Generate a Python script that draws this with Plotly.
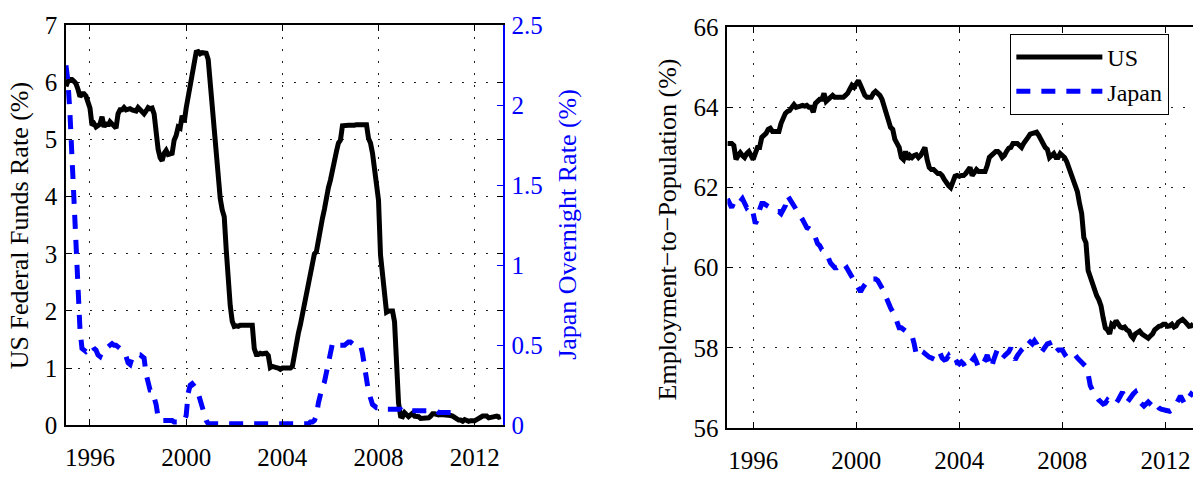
import numpy as np
import plotly.graph_objects as go

FONT = "Liberation Serif, Times New Roman, serif"
BLUE = "#0000FF"
W, H = 1193, 477

# US effective federal funds rate, monthly from Jan 1995 (%)
us_fed_funds = [
    5.93, 6.02, 6.05, 6.05, 6.02, 5.98, 5.88, 5.75, 5.80, 5.80, 5.76, 5.62,  # 1995
    5.55, 5.25, 5.28, 5.22, 5.24, 5.27, 5.40, 5.22, 5.30, 5.24, 5.31, 5.27,  # 1996
    5.22, 5.20, 5.45, 5.52, 5.52, 5.56, 5.52, 5.54, 5.54, 5.52, 5.52, 5.50,  # 1997
    5.56, 5.52, 5.50, 5.45, 5.50, 5.56, 5.54, 5.55, 5.45, 5.07, 4.83, 4.68,  # 1998
    4.63, 4.76, 4.81, 4.74, 4.74, 4.76, 4.99, 5.07, 5.22, 5.20, 5.42, 5.30,  # 1999
    5.55, 5.75, 5.85, 6.05, 6.30, 6.53, 6.54, 6.50, 6.52, 6.51, 6.51, 6.40,  # 2000
    5.98, 5.49, 5.31, 4.80, 4.21, 3.97, 3.77, 3.65, 3.07, 2.49, 2.09, 1.82,  # 2001
    1.73, 1.74, 1.73, 1.75, 1.75, 1.75, 1.73, 1.74, 1.75, 1.75, 1.34, 1.24,  # 2002
    1.24, 1.26, 1.25, 1.26, 1.26, 1.22, 1.01, 1.03, 1.01, 1.01, 1.00, 0.98,  # 2003
    1.00, 1.01, 1.00, 1.00, 1.00, 1.03, 1.26, 1.43, 1.61, 1.76, 1.93, 2.16,  # 2004
    2.28, 2.50, 2.63, 2.79, 3.00, 3.04, 3.26, 3.50, 3.62, 3.78, 4.00, 4.16,  # 2005
    4.29, 4.49, 4.59, 4.79, 4.94, 4.99, 5.24, 5.25, 5.25, 5.25, 5.25, 5.24,  # 2006
    5.25, 5.26, 5.26, 5.25, 5.25, 5.25, 5.26, 5.02, 4.94, 4.76, 4.49, 4.24,  # 2007
    3.94, 2.98, 2.61, 2.28, 1.98, 2.00, 2.01, 2.00, 1.81, 0.97, 0.39, 0.16,  # 2008
    0.15, 0.22, 0.18, 0.15, 0.18, 0.21, 0.16, 0.16, 0.15, 0.12, 0.12, 0.12,  # 2009
    0.11, 0.13, 0.16, 0.20, 0.20, 0.18, 0.18, 0.19, 0.19, 0.19, 0.19, 0.18,  # 2010
    0.17, 0.16, 0.14, 0.10, 0.09, 0.09, 0.07, 0.10, 0.08, 0.07, 0.08, 0.07,  # 2011
    0.08, 0.10, 0.13, 0.14, 0.16, 0.16, 0.16, 0.13, 0.14, 0.16, 0.16, 0.16,  # 2012
    0.14, 0.15,                                                              # 2013
]

# Japan uncollateralized overnight call rate, monthly from Jan 1995 (%)
jp_overnight = [
    2.25, 2.15, 1.95, 1.65, 1.35, 1.10, 0.85, 0.60, 0.48, 0.47, 0.46, 0.47,  # 1995
    0.49, 0.50, 0.48, 0.47, 0.44, 0.43, 0.46, 0.47, 0.48, 0.50, 0.51, 0.51,  # 1996
    0.50, 0.50, 0.49, 0.48, 0.47, 0.45, 0.43, 0.39, 0.38, 0.42, 0.44, 0.44,  # 1997
    0.44, 0.44, 0.43, 0.42, 0.32, 0.27, 0.22, 0.22, 0.18, 0.13, 0.05, 0.03,  # 1998
    0.03, 0.03, 0.03, 0.03, 0.03, 0.03, 0.02, 0.02, 0.02, 0.02, 0.02, 0.03,  # 1999
    0.06, 0.20, 0.25, 0.26, 0.25, 0.23, 0.20, 0.16, 0.10, 0.06, 0.03, 0.01,  # 2000
    0.01, 0.01, 0.01, 0.01, 0.01, 0.01, 0.01, 0.01, 0.01, 0.01, 0.01, 0.01,  # 2001
    0.01, 0.01, 0.01, 0.01, 0.01, 0.01, 0.01, 0.01, 0.01, 0.01, 0.01, 0.01,  # 2002
    0.01, 0.01, 0.01, 0.01, 0.01, 0.01, 0.01, 0.01, 0.01, 0.01, 0.01, 0.01,  # 2003
    0.01, 0.01, 0.01, 0.01, 0.01, 0.01, 0.01, 0.01, 0.01, 0.01, 0.01, 0.01,  # 2004
    0.01, 0.01, 0.02, 0.02, 0.03, 0.06, 0.14, 0.21, 0.24, 0.27, 0.33, 0.40,  # 2005
    0.47, 0.51, 0.52, 0.51, 0.50, 0.50, 0.50, 0.50, 0.51, 0.52, 0.52, 0.51,  # 2006
    0.50, 0.50, 0.50, 0.50, 0.45, 0.36, 0.28, 0.21, 0.17, 0.13, 0.12, 0.11,  # 2007
    0.11, 0.11, 0.11, 0.11, 0.10, 0.10, 0.10, 0.10, 0.10, 0.10, 0.10, 0.10,  # 2008
    0.09, 0.09, 0.09, 0.09, 0.09, 0.09, 0.09, 0.09, 0.09, 0.09, 0.09, 0.09,  # 2009
    0.09, 0.09, 0.09, 0.09, 0.09, 0.09, 0.08, 0.08, 0.08, 0.08, 0.08, 0.08,  # 2010
    0.08,                                                                    # 2011
]

# Employment-to-population ratio, monthly from Jan 1995 (%)
us_epop = [
    63.10, 63.10, 63.10, 63.05, 62.70, 62.80, 62.87, 62.80, 62.75, 62.85, 62.90, 62.80,  # 1995
    62.70, 62.85, 63.00, 63.00, 63.25, 63.30, 63.35, 63.45, 63.48, 63.40, 63.40, 63.40,  # 1996
    63.40, 63.60, 63.75, 63.85, 63.90, 63.92, 64.00, 64.07, 64.00, 64.00, 64.03, 64.05,  # 1997
    64.03, 64.05, 64.00, 64.00, 63.88, 64.10, 64.15, 64.20, 64.20, 64.35, 64.15, 64.20,  # 1998
    64.25, 64.30, 64.25, 64.25, 64.25, 64.25, 64.25, 64.30, 64.35, 64.45, 64.55, 64.50,  # 1999
    64.60, 64.67, 64.55, 64.40, 64.30, 64.25, 64.25, 64.25, 64.35, 64.40, 64.35, 64.30,  # 2000
    64.20, 64.00, 63.90, 63.70, 63.50, 63.45, 63.20, 63.10, 63.00, 62.75, 62.70, 62.90,  # 2001
    62.70, 62.80, 62.75, 62.80, 62.82, 62.75, 62.80, 62.90, 63.00, 62.70, 62.50, 62.45,  # 2002
    62.45, 62.40, 62.35, 62.35, 62.30, 62.20, 62.10, 62.05, 62.00, 62.15, 62.28, 62.30,  # 2003
    62.28, 62.30, 62.30, 62.35, 62.45, 62.50, 62.30, 62.40, 62.45, 62.40, 62.40, 62.40,  # 2004
    62.40, 62.55, 62.75, 62.80, 62.85, 62.90, 62.90, 62.85, 62.75, 62.80, 62.90, 62.98,  # 2005
    63.00, 63.10, 63.10, 63.10, 63.05, 63.00, 63.10, 63.20, 63.25, 63.33, 63.35, 63.38,  # 2006
    63.38, 63.30, 63.20, 63.05, 63.00, 62.95, 62.75, 62.80, 62.85, 62.75, 62.75, 62.85,  # 2007
    62.80, 62.75, 62.65, 62.50, 62.35, 62.20, 62.05, 61.90, 61.60, 61.35, 60.75, 60.62,  # 2008
    59.93, 59.75, 59.60, 59.45, 59.30, 59.20, 59.05, 58.75, 58.50, 58.45, 58.35, 58.59,  # 2009
    58.55, 58.68, 58.60, 58.52, 58.50, 58.52, 58.45, 58.42, 58.30, 58.24, 58.35, 58.40,  # 2010
    58.42, 58.35, 58.31, 58.28, 58.24, 58.30, 58.35, 58.45, 58.52, 58.54, 58.55, 58.59,  # 2011
    58.59, 58.54, 58.55, 58.59, 58.52, 58.55, 58.64, 58.68, 58.71, 58.66, 58.60, 58.54,  # 2012
    58.55, 58.60,                                                                        # 2013
]

jp_epop = [
    61.72, 61.60, 61.50, 61.62, 61.70, 61.72, 61.65, 61.72, 61.60, 61.50, 61.55, 61.45,  # 1995
    61.36, 61.10, 61.20, 61.45, 61.60, 61.60, 61.55, 61.53, 61.50, 61.45, 61.42, 61.40,  # 1996
    61.40, 61.35, 61.45, 61.55, 61.80, 61.72, 61.60, 61.53, 61.45, 61.36, 61.28, 61.20,  # 1997
    61.10, 61.00, 60.98, 60.93, 60.90, 60.75, 60.60, 60.55, 60.45, 60.42, 60.35, 60.25,  # 1998
    60.12, 60.05, 60.00, 60.00, 60.05, 60.10, 60.12, 60.05, 59.95, 59.90, 59.80, 59.70,  # 1999
    59.60, 59.45, 59.40, 59.50, 59.60, 59.65, 59.72, 59.72, 59.70, 59.72, 59.68, 59.60,  # 2000
    59.50, 59.40, 59.25, 59.10, 59.00, 58.90, 58.82, 58.65, 58.50, 58.50, 58.45, 58.42,  # 2001
    58.40, 58.35, 58.30, 58.10, 57.83, 57.88, 57.93, 57.90, 57.85, 57.80, 57.77, 57.75,  # 2002
    57.72, 57.70, 57.75, 57.88, 57.75, 57.70, 57.72, 57.80, 57.70, 57.60, 57.62, 57.65,  # 2003
    57.60, 57.65, 57.60, 57.50, 57.55, 57.62, 57.70, 57.77, 57.65, 57.50, 57.55, 57.60,  # 2004
    57.70, 57.82, 57.65, 57.50, 57.70, 57.85, 58.00, 57.90, 57.83, 57.80, 57.85, 57.90,  # 2005
    58.00, 57.85, 57.70, 57.80, 57.90, 57.95, 58.00, 58.10, 58.20, 58.15, 58.10, 58.18,  # 2006
    58.10, 57.95, 57.88, 57.95, 58.05, 58.10, 58.12, 58.00, 57.88, 57.90, 57.95, 57.95,  # 2007
    57.95, 57.85, 57.77, 57.75, 57.80, 57.80, 57.82, 57.75, 57.70, 57.65, 57.60, 57.53,  # 2008
    57.35, 57.06, 56.95, 56.85, 56.78, 56.70, 56.65, 56.60, 56.62, 56.70, 56.65, 56.60,  # 2009
    56.60, 56.62, 56.70, 56.80, 56.90, 56.75, 56.63, 56.70, 56.80, 56.85, 56.90, 56.75,  # 2010
    56.65, 56.60, 56.55, 56.60, 56.65, 56.60, 56.55, 56.63, 56.55, 56.50, 56.47, 56.45,  # 2011
    56.45, 56.42, 56.42, 56.45, 56.50, 56.60, 56.70, 56.80, 56.70, 56.60, 56.70, 56.80,  # 2012
    56.85, 56.80,                                                                        # 2013
]

year_ticks = [1996, 2000, 2004, 2008, 2012]


def months(n, start=1995):
    """Decimal-year time stamps for n consecutive months."""
    return start + np.arange(n) / 12.0


def px_x(p):
    return p / W


def px_y(p):
    return 1 - p / H


LW = 5
DASH = "14px,11px"

fig = go.Figure()

# left panel: policy rates
fig.add_trace(go.Scatter(
    x=months(len(us_fed_funds)), y=us_fed_funds, mode="lines",
    line=dict(color="black", width=LW), showlegend=False,
    xaxis="x", yaxis="y"))
fig.add_trace(go.Scatter(
    x=months(len(jp_overnight)), y=jp_overnight, mode="lines",
    line=dict(color=BLUE, width=LW, dash=DASH), showlegend=False,
    xaxis="x", yaxis="y2"))

# right panel: employment-to-population
fig.add_trace(go.Scatter(
    x=months(len(us_epop)), y=us_epop, mode="lines", name="US",
    line=dict(color="black", width=LW), xaxis="x3", yaxis="y3"))
fig.add_trace(go.Scatter(
    x=months(len(jp_epop)), y=jp_epop, mode="lines", name="Japan",
    line=dict(color=BLUE, width=LW, dash=DASH), xaxis="x3", yaxis="y3"))

tick_font = dict(family=FONT, size=25, color="black")
grid = dict(showgrid=True, gridcolor="#222222", gridwidth=1.3, griddash="2px,10px")
common_axis = dict(showline=True, linecolor="black", linewidth=1.6,
                   ticks="inside", ticklen=6, tickwidth=1.2, tickcolor="black",
                   tickfont=tick_font, zeroline=False)

fig.update_layout(
    width=W, height=H, autosize=False,
    margin=dict(l=0, r=0, t=0, b=0),
    paper_bgcolor="white", plot_bgcolor="white",
    font=dict(family=FONT, size=25, color="black"),
    xaxis=dict(domain=[px_x(65), px_x(502)], range=[1995, 2013.16],
               tickvals=year_ticks, tickformat="d", mirror="ticks",
               ticklabelstandoff=9, anchor="y", **grid, **common_axis),
    yaxis=dict(domain=[px_y(437), px_y(13)], range=[0, 7], dtick=1,
               mirror="ticks", ticklabelstandoff=2, anchor="x",
               **grid, **common_axis),
    yaxis2=dict(overlaying="y", side="right", anchor="x", range=[0, 2.5],
                dtick=0.5, showgrid=False, zeroline=False, showline=True,
                linecolor=BLUE, linewidth=1.6, ticks="inside", ticklen=6,
                tickwidth=1.2, tickcolor=BLUE, ticklabelstandoff=2,
                tickfont=dict(family=FONT, size=25, color=BLUE)),
    xaxis3=dict(domain=[px_x(727), 1.0], range=[1995, 2013.07],
                tickvals=year_ticks, tickformat="d", mirror="ticks",
                ticklabelstandoff=9, anchor="y3", **grid, **common_axis),
    yaxis3=dict(domain=[px_y(440), px_y(15)], range=[56, 66], dtick=2,
                mirror=False, ticklabelstandoff=2, anchor="x3",
                **grid, **common_axis),
    legend=dict(x=px_x(1010), xanchor="left", y=px_y(22), yanchor="top",
                bgcolor="white", bordercolor="black", borderwidth=1.2,
                font=dict(family=FONT, size=24, color="black"),
                itemwidth=86, tracegroupgap=0),
    annotations=[
        dict(text="US Federal Funds Rate (%)", x=px_x(18), y=px_y(225),
             xref="paper", yref="paper", textangle=-90, showarrow=False,
             xanchor="center", yanchor="middle",
             font=dict(family=FONT, size=26, color="black")),
        dict(text="Japan Overnight Rate (%)", x=px_x(567), y=px_y(224),
             xref="paper", yref="paper", textangle=-90, showarrow=False,
             xanchor="center", yanchor="middle",
             font=dict(family=FONT, size=26, color=BLUE)),
        dict(text="Employment\u2212to\u2212Population (%)", x=px_x(667), y=px_y(229),
             xref="paper", yref="paper", textangle=-90, showarrow=False,
             xanchor="center", yanchor="middle",
             font=dict(family=FONT, size=26, color="black")),
    ],
)

fig.write_html("out.html")
